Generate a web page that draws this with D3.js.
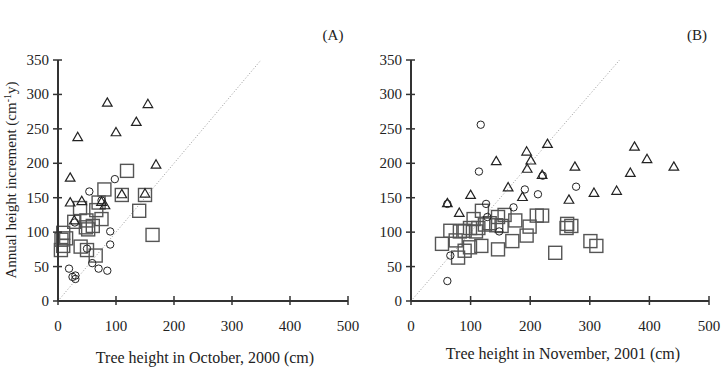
<!DOCTYPE html>
<html><head><meta charset="utf-8">
<script src="https://cdn.jsdelivr.net/npm/d3@7/dist/d3.min.js"></script>
<style>body{margin:0;background:#fff}svg{display:block}text{font-family:"Liberation Serif","Times New Roman",serif;fill:#222}</style>
</head><body>
<svg id="c" width="722" height="372"></svg>
<script>
const xTicks = [0,100,200,300,400,500];
const yTicks = [0,50,100,150,200,250,300,350];
const panelLabels = ["(A)","(B)"];
const xTitles = ["Tree height in October, 2000 (cm)","Tree height in November, 2001 (cm)"];

const aTriangles = [[85,287],[155,285],[135,259],[34,237],[100,244],[169,197],[21,178],[110,154],[150,155],[21,142],[41,144],[75,143],[81,138],[28,116]];
const aCircles = [[98,177],[54,159],[90,101],[90,82],[59,55],[70,47],[85,44],[19,47],[25,35],[30,37],[30,32],[50,76],[29,114],[75,146]];
const aSquares = [[119,189],[80,162],[110,154],[150,154],[38,135],[70,143],[66,132],[140,131],[75,119],[49,117],[28,115],[60,109],[52,104],[48,107],[163,96],[9,99],[14,91],[6,89],[5,74],[9,80],[39,79],[50,74],[65,66]];

const bTriangles = [[143,202],[194,216],[229,227],[201,203],[195,191],[220,182],[275,194],[163,164],[187,150],[100,153],[265,146],[61,141],[81,127],[375,223],[396,205],[441,194],[368,185],[345,159],[307,156]];
const bCircles = [[117,256],[114,188],[221,182],[191,162],[213,155],[277,166],[126,141],[172,136],[61,141],[128,122],[148,101],[66,66],[61,29]];
const bSquares = [[52,83],[66,102],[75,88],[79,63],[82,101],[90,102],[90,73],[99,78],[99,106],[105,119],[109,101],[113,106],[118,80],[119,131],[124,111],[132,113],[143,110],[146,122],[146,75],[152,109],[157,125],[170,87],[175,117],[194,95],[199,108],[211,124],[220,124],[242,70],[261,106],[262,112],[269,109],[301,87],[311,80]];

const svg = d3.select("#c");
const panels = [
  {x0:58, x1:348, tri:aTriangles, cir:aCircles, sq:aSquares, lab:panelLabels[0], labX:333, title:xTitles[0], titleX:205, titleY:363},
  {x0:411, x1:709, tri:bTriangles, cir:bCircles, sq:bSquares, lab:panelLabels[1], labX:697, title:xTitles[1], titleX:563, titleY:359}
];
const y = d3.scaleLinear().domain([0,350]).range([301,60]);

panels.forEach(p => {
  const x = d3.scaleLinear().domain([0,500]).range([p.x0,p.x1]);
  const g = svg.append("g");
  g.append("line").attr("x1",x(0)).attr("y1",y(0)).attr("x2",x(350)).attr("y2",y(350))
    .attr("stroke","#999").attr("stroke-width",1).attr("stroke-dasharray","1,2");
  g.selectAll("rect.sq").data(p.sq).join("rect").attr("class","sq")
    .attr("x",d=>x(d[0])-6.5).attr("y",d=>y(d[1])-6.5).attr("width",13).attr("height",13)
    .attr("fill","none").attr("stroke","#555").attr("stroke-width",1.4);
  const tri = d3.symbol().type(d3.symbolTriangle).size(40);
  g.selectAll("path.tr").data(p.tri).join("path").attr("class","tr")
    .attr("d",tri).attr("transform",d=>`translate(${x(d[0])},${y(d[1])})`)
    .attr("fill","none").attr("stroke","#222").attr("stroke-width",1.2);
  g.selectAll("circle.ci").data(p.cir).join("circle").attr("class","ci")
    .attr("cx",d=>x(d[0])).attr("cy",d=>y(d[1])).attr("r",3.7)
    .attr("fill","none").attr("stroke","#222").attr("stroke-width",1);
  const xa = g.append("g").attr("transform",`translate(0,${y(0)})`)
    .call(d3.axisBottom(x).tickValues(xTicks).tickSize(0).tickFormat(""));
  xa.select(".domain").remove();
  const ya = g.append("g").attr("transform",`translate(${p.x0},0)`)
    .call(d3.axisLeft(y).tickValues(yTicks).tickSize(0).tickFormat(""));
  ya.select(".domain").remove();
  g.append("line").attr("x1",x(0)).attr("x2",x(500)).attr("y1",y(0)).attr("y2",y(0)).attr("stroke","#333").attr("stroke-width",2);
  g.append("line").attr("x1",x(0)).attr("x2",x(0)).attr("y1",y(0)).attr("y2",y(350)).attr("stroke","#333").attr("stroke-width",2);
  xTicks.forEach(t => {
    g.append("line").attr("x1",x(t)).attr("x2",x(t)).attr("y1",y(0)-5).attr("y2",y(0)+4).attr("stroke","#333").attr("stroke-width",1.5);
    g.append("text").attr("x",x(t)).attr("y",331).attr("text-anchor","middle").attr("font-size",15).text(t);
  });
  yTicks.forEach(t => {
    g.append("line").attr("x1",p.x0-5).attr("x2",p.x0+4).attr("y1",y(t)).attr("y2",y(t)).attr("stroke","#333").attr("stroke-width",1.5);
    g.append("text").attr("x",p.x0-9).attr("y",y(t)+5).attr("text-anchor","end").attr("font-size",15).text(t);
  });
  g.append("text").attr("x",p.labX).attr("y",40).attr("text-anchor","middle").attr("font-size",15).text(p.lab);
  g.append("text").attr("x",p.titleX).attr("y",p.titleY).attr("text-anchor","middle").attr("font-size",16).text(p.title);
});

const yt = svg.append("text").attr("transform","translate(16,180) rotate(-90)").attr("text-anchor","middle").attr("font-size",15);
yt.append("tspan").text("Annual height increment (cm");
yt.append("tspan").attr("dy",-5).attr("font-size",10).text("-1");
yt.append("tspan").attr("dy",5).text("y)");
</script>
</body></html>
